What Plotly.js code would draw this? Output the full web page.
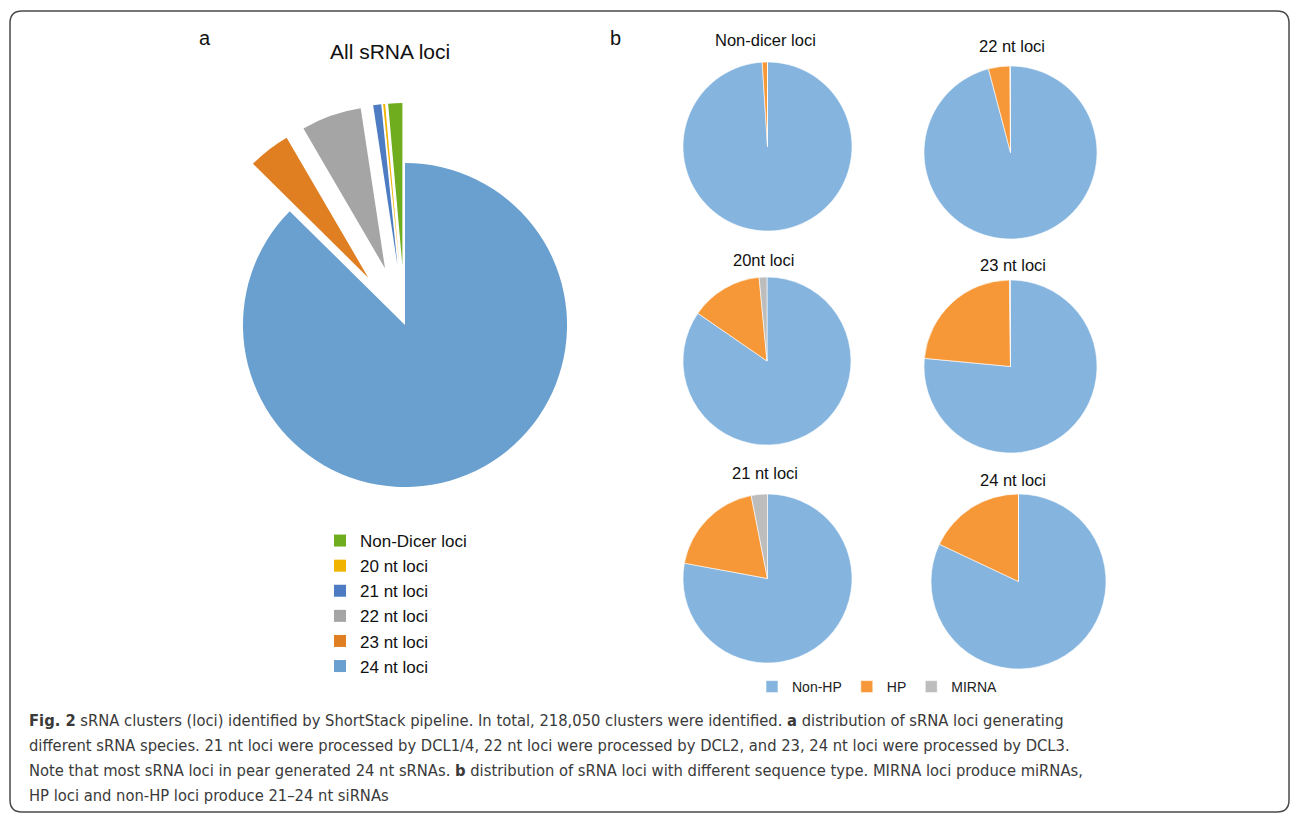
<!DOCTYPE html>
<html>
<head>
<meta charset="utf-8">
<script src="https://cdn.plot.ly/plotly-3.0.1.min.js"></script>
<style>
  html, body { margin: 0; padding: 0; background: #ffffff; }
  #fig { width: 1290px; height: 818px; }
</style>
</head>
<body>
<div id="fig"></div>
<script>
// Panel a: all sRNA loci by size class (percent of clusters)
const lociLabels = ['Non-Dicer loci', '20 nt loci', '21 nt loci', '22 nt loci', '23 nt loci', '24 nt loci'];
const lociShare  = [1.4, 0.2, 0.8, 6.0, 4.2, 87.4];
const lociColors = ['#70AD1E', '#F0B400', '#4D7CC2', '#A5A5A5', '#E07F22', '#6AA0CF'];

// Panel b: sequence type within each class (percent)
const typeLabels = ['Non-HP', 'HP', 'MIRNA'];
const typeColors = ['#85B4DF', '#F79838', '#BDBDBD'];
const panelTitles = ['Non-dicer loci', '22 nt loci', '20nt loci', '23 nt loci', '21 nt loci', '24 nt loci'];
const nonHP = [99.0, 95.9, 84.6, 76.5, 77.9, 82.0];
const hp    = [1.0, 4.0, 13.9, 23.3, 19.0, 18.0];
const mirna = [0.0, 0.1, 1.5, 0.2, 3.1, 0.0];

// Figure caption lines
const captionLines = [
  '<b>Fig. 2</b> sRNA clusters (loci) identified by ShortStack pipeline. In total, 218,050 clusters were identified. <b>a</b> distribution of sRNA loci generating',
  'different sRNA species. 21 nt loci were processed by DCL1/4, 22 nt loci were processed by DCL2, and 23, 24 nt loci were processed by DCL3.',
  'Note that most sRNA loci in pear generated 24 nt sRNAs. <b>b</b> distribution of sRNA loci with different sequence type. MIRNA loci produce miRNAs,',
  'HP loci and non-HP loci produce 21–24 nt siRNAs'
];

const W = 1290, H = 818;
const px = x => x / W;
const py = y => 1 - y / H;
const SANS = 'Liberation Sans, Arial, sans-serif';

const PULL = 0.37;
const traces = [];

// counterclockwise pies place the first slice clockwise of the start angle,
// so turn back by its own sweep to have it end at 12 o'clock
const lociTotal = lociShare.reduce((a, b) => a + b, 0);
traces.push({
  type: 'pie',
  labels: lociLabels,
  values: lociShare,
  sort: false,
  direction: 'counterclockwise',
  rotation: -lociShare[0] / lociTotal * 360,
  pull: lociLabels.map(l => l === '24 nt loci' ? 0 : PULL),
  marker: { colors: lociColors, line: { width: 0 } },
  textinfo: 'none',
  hoverinfo: 'label+percent',
  domain: { x: [px(183), px(627)], y: [py(547), py(103)] },
  legend: 'legend',
  showlegend: true
});

// small pie boxes: [left, top, right, bottom] in pixels
const boxes = [
  [683, 62, 852, 231],
  [924, 66, 1097, 239],
  [683, 277, 851, 445],
  [924, 280, 1097, 453],
  [683, 494, 852, 663],
  [931, 494, 1106, 669]
];

const annotations = [];
panelTitles.forEach((t, i) => {
  const b = boxes[i];
  traces.push({
    type: 'pie',
    labels: typeLabels,
    values: [nonHP[i], hp[i], mirna[i]],
    sort: false,
    direction: 'clockwise',
    rotation: 0,
    marker: { colors: typeColors, line: { color: '#ffffff', width: 0.6 } },
    textinfo: 'none',
    hoverinfo: 'label+percent',
    domain: { x: [px(b[0]), px(b[2])], y: [py(b[3]), py(b[1])] },
    legend: 'legend2',
    showlegend: i === 0
  });
});

const titlePos = [[765, 40], [1012, 46], [763, 260], [1013, 265], [765, 473], [1013, 480]];
panelTitles.forEach((t, i) => {
  annotations.push({
    text: t, xref: 'paper', yref: 'paper',
    x: px(titlePos[i][0]), y: py(titlePos[i][1]),
    xanchor: 'center', yanchor: 'middle', showarrow: false,
    font: { family: SANS, size: 16.5, color: '#111111' }
  });
});

annotations.push(
  { text: 'All sRNA loci', xref: 'paper', yref: 'paper', x: px(390), y: py(52),
    xanchor: 'center', yanchor: 'middle', showarrow: false,
    font: { family: SANS, size: 21, color: '#111111' } },
  { text: 'a', xref: 'paper', yref: 'paper', x: px(205), y: py(38),
    xanchor: 'center', yanchor: 'middle', showarrow: false,
    font: { family: SANS, size: 20, color: '#111111' } },
  { text: 'b', xref: 'paper', yref: 'paper', x: px(615), y: py(38),
    xanchor: 'center', yanchor: 'middle', showarrow: false,
    font: { family: SANS, size: 20, color: '#111111' } }
);

captionLines.forEach((line, i) => {
  annotations.push({
    text: line, xref: 'paper', yref: 'paper',
    x: px(27), y: py(720 + 25 * i), xanchor: 'left', yanchor: 'middle', align: 'left',
    showarrow: false,
    font: { family: 'DejaVu Sans Condensed, Liberation Sans Narrow, sans-serif', size: 16.4, color: '#3a3a3a' }
  });
});

// rounded frame around the figure
const L = 10, T = 11, R = 1289, B = 812, rad = 12;
const framePath = [
  `M${px(L + rad)},${py(T)}`,
  `L${px(R - rad)},${py(T)}`,
  `Q${px(R)},${py(T)} ${px(R)},${py(T + rad)}`,
  `L${px(R)},${py(B - rad)}`,
  `Q${px(R)},${py(B)} ${px(R - rad)},${py(B)}`,
  `L${px(L + rad)},${py(B)}`,
  `Q${px(L)},${py(B)} ${px(L)},${py(B - rad)}`,
  `L${px(L)},${py(T + rad)}`,
  `Q${px(L)},${py(T)} ${px(L + rad)},${py(T)}`,
  'Z'
].join(' ');

const layout = {
  width: W, height: H,
  margin: { l: 0, r: 0, t: 0, b: 0, pad: 0 },
  paper_bgcolor: '#ffffff',
  plot_bgcolor: '#ffffff',
  font: { family: SANS, color: '#111111' },
  legend: {
    x: px(320), y: py(523), xanchor: 'left', yanchor: 'top',
    orientation: 'v', bgcolor: 'rgba(0,0,0,0)',
    font: { family: SANS, size: 17, color: '#111111' }
  },
  legend2: {
    x: px(752), y: py(687), xanchor: 'left', yanchor: 'middle',
    orientation: 'h', bgcolor: 'rgba(0,0,0,0)',
    font: { family: SANS, size: 14, color: '#222222' }
  },
  annotations: annotations,
  shapes: [{
    type: 'path', xref: 'paper', yref: 'paper', path: framePath,
    line: { color: '#4a4a4a', width: 1.5 }
  }]
};

Plotly.newPlot('fig', traces, layout, { displayModeBar: false, staticPlot: true });
</script>
</body>
</html>
